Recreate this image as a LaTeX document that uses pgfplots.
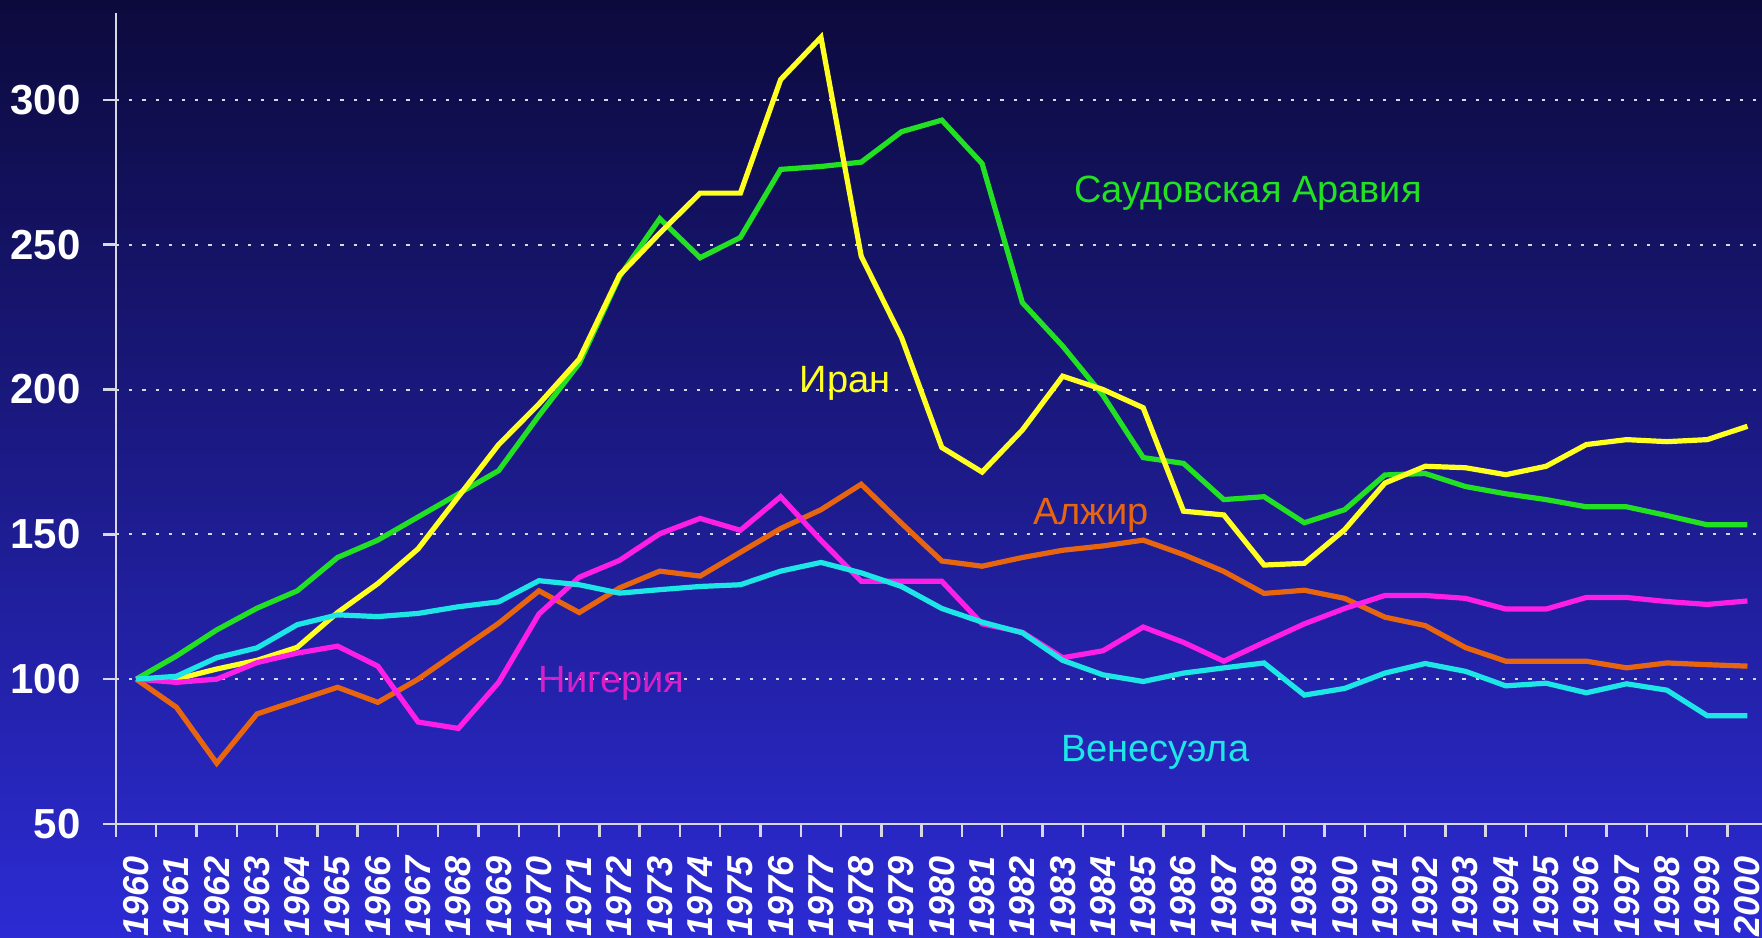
\documentclass[border=0pt]{standalone}
\usepackage{fontspec}
\setmainfont{Liberation Sans}
\usepackage{pgfplots}
\pgfplotsset{compat=1.18}
\usetikzlibrary{backgrounds}
\definecolor{bgtop}{HTML}{0C0A3C}
\definecolor{bgmid}{HTML}{1C1B86}
\definecolor{bgbot}{HTML}{2C2BD4}
\definecolor{saudi}{HTML}{22E022}
\definecolor{iran}{HTML}{FFFF22}
\definecolor{alg}{HTML}{E8650F}
\definecolor{nig}{HTML}{FF1EE6}
\definecolor{nigtxt}{HTML}{D71FC8}
\definecolor{ven}{HTML}{1EE6E6}
\definecolor{axgrey}{HTML}{D8D8E4}

% index 1960 = 100
\pgfplotstableread{
year saudi iran alg nig ven
1960 100 100 100 100 100
1961 108 100 90.3 98.9 101
1962 117 103.5 71 100 107.4
1963 124.5 106.5 88 105.7 110.8
1964 130.5 111 92.6 109 118.8
1965 142 123 97.2 111.4 122.2
1966 148 133 92 104.5 121.6
1967 156 145 100 85.2 122.7
1968 164 163 109.7 83 125
1969 172 181 119.3 98.9 126.7
1970 191 195 130.5 122.5 134
1971 209 210.5 123 135.2 132.6
1972 239 239.5 131.5 141 129.7
1973 259 254 137.3 150.2 130.9
1974 245.5 267.8 135.6 155.5 132
1975 252.5 267.8 143.8 151.4 132.6
1976 276 307 152 163 137.3
1977 277 321.6 158.5 147.9 140.3
1978 278.5 246 167.3 133.8 136.7
1979 289 218 153.8 133.8 132
1980 293 180 140.8 133.8 124.4
1981 278 171.5 139 119.1 119.7
1982 230 186 142 116.2 116
1983 215 204.6 144.5 107.4 106.5
1984 198 200 146 109.8 101.5
1985 176.5 193.7 148 118 99.2
1986 174.5 158 143 112.7 102.1
1987 162 156.7 137.2 106.2 103.9
1988 163 139.4 129.6 112.7 105.6
1989 154 140 130.7 119.1 94.5
1990 158.5 151.6 127.9 124.4 96.8
1991 170.5 167.7 121.4 128.9 102.1
1992 171 173.5 118.5 128.9 105.4
1993 166.5 173 110.9 127.9 102.7
1994 164 170.6 106.2 124.2 97.7
1995 162 173.5 106.2 124.2 98.6
1996 159.5 181 106.2 128.2 95.3
1997 159.5 182.7 103.9 128.2 98.4
1998 156.5 182 105.6 126.8 96.2
1999 153.3 182.7 105 125.8 87.4
2000 153.3 187.3 104.5 127 87.4
}\oil

\begin{document}
\begin{tikzpicture}[
  show background rectangle, inner frame sep=0pt,
  background rectangle/.style={draw=none, top color=bgtop, middle color=bgmid, bottom color=bgbot}]
\begin{axis}[
  scale only axis, width=412.9pt, height=202.75pt,
  xmin=1959.5, xmax=2000.5, ymin=50, ymax=330,
  axis x line=bottom, axis y line=left,
  axis line style={-, draw=axgrey, line width=0.6pt},
  tick align=outside, major tick length=3.2pt,
  tick style={draw=axgrey, line width=0.6pt},
  xtick={1959.5,1960.5,...,2000.5},
  x tick label as interval,
  xticklabel={\pgfmathparse{int(round(\tick+0.5))}\pgfmathresult},
  ytick={50,100,...,300},
  ymajorgrids, grid style={draw=axgrey, line width=0.5pt, dash pattern=on 0.8pt off 2.5pt},
  /pgf/number format/assume math mode=true,
  /pgf/number format/1000 sep={},
  xticklabel style={rotate=90, anchor=east, inner sep=0pt, xshift=-4.8pt,
    font=\fontsize{9}{10}\selectfont\bfseries\itshape, text=white},
  yticklabel style={anchor=east, inner sep=0pt, xshift=-5.5pt,
    font=\fontsize{10.5}{12}\selectfont\bfseries, text=white},
  every axis plot/.append style={line width=1.3pt, mark=none},
]
\coordinate (o) at (1959.5,50);
\addplot[saudi] table[x=year, y=saudi] {\oil};
\addplot[iran] table[x=year, y=iran] {\oil};
\addplot[alg] table[x=year, y=alg] {\oil};
\addplot[nig] table[x=year, y=nig] {\oil};
\addplot[ven] table[x=year, y=ven] {\oil};
\begin{scope}[every node/.style={font=\fontsize{9.5}{11}\selectfont, inner sep=0pt}]
\node[text=saudi] at (1987.6,267.8) {Саудовская Аравия};
\node[text=iran] at (1977.6,202.2) {Иран};
\node[text=alg] at (1983.7,156.6) {Алжир};
\node[text=nigtxt] at (1971.8,98.5) {Нигерия};
\node[text=ven] at (1985.3,74.6) {Венесуэла};
\end{scope}
\end{axis}
\pgfresetboundingbox
\path[use as bounding box] ([shift={(-29pt,-28.5pt)}]o) rectangle ([shift={(411.5pt,206pt)}]o);
\end{tikzpicture}
\end{document}
